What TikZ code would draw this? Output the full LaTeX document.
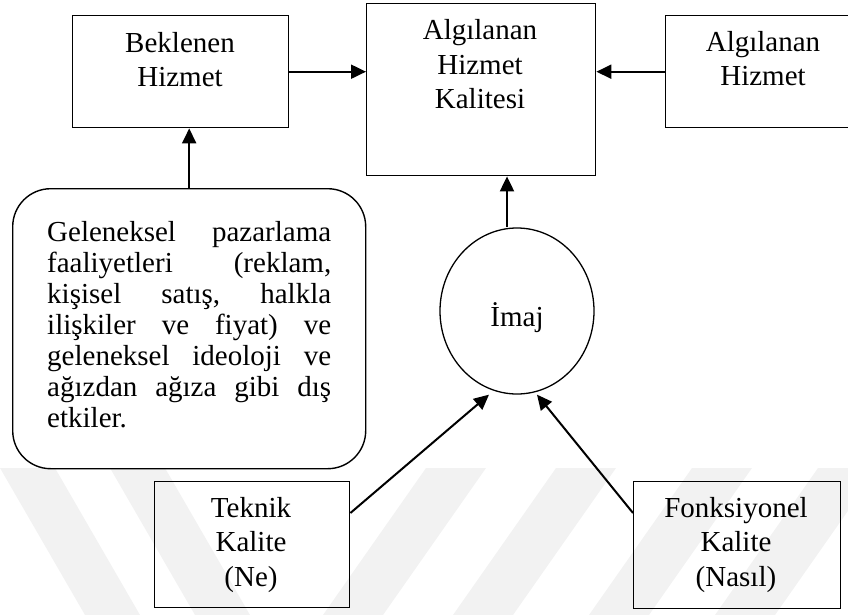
\documentclass[tikz,border=0pt]{standalone}
\usepackage{fontspec}
\setmainfont{Liberation Serif}
\usetikzlibrary{arrows.meta,shapes.geometric}

\tikzset{
  box/.style={draw, line width=1.4pt, minimum width=#1, inner sep=0pt, anchor=north west},
  roundbox/.style={draw, line width=1.4pt, rounded corners=38pt, inner sep=0pt, anchor=north west},
  bubble/.style={draw, ellipse, line width=1.3pt, inner sep=0pt},
  lbl/.style={align=center, inner sep=0pt, anchor=base,
    font=\fontsize{29}{34.5}\selectfont},
  para/.style={text width=284pt, align=left, inner sep=0pt, anchor=base west,
    font=\fontsize{29}{31}\selectfont},
  arr/.style={line width=2pt, -{Triangle[length=15pt,width=14pt]}},
  bandfill/.style={fill=black!5, draw=none}
}
% one justified line of the paragraph
\newcommand\jline[1]{\leavevmode\hbox to 284pt{#1}}

\begin{document}
\begin{tikzpicture}[x=1pt, y=-1pt]
  \useasboundingbox (0,0) rectangle (848,615);
  \clip (0,0) rectangle (848,615);

  % faint background bands
  \fill[bandfill] (0,468) -- (55,468) -- (140,615) -- (85,615) -- cycle;
  \fill[bandfill] (110,468) -- (165,468) -- (250,615) -- (195,615) -- cycle;
  \fill[bandfill] (426,468) -- (486,468) -- (383,615) -- (323,615) -- cycle;
  \fill[bandfill] (556,468) -- (616,468) -- (513,615) -- (453,615) -- cycle;
  \fill[bandfill] (692,468) -- (752,468) -- (649,615) -- (589,615) -- cycle;
  \fill[bandfill] (818,468) -- (878,468) -- (775,615) -- (715,615) -- cycle;

  % boxes
  \node[box=216pt, minimum height=112pt] (bek) at (72,15) {};
  \node[box=229pt, minimum height=172pt] (kal) at (366,3) {};
  \node[box=196pt, minimum height=112pt] (alg) at (665,15) {};
  \node[roundbox, minimum width=353pt, minimum height=280pt] (geleneksel) at (12,188) {};
  \node[bubble, minimum width=154pt, minimum height=166pt] (imaj) at (517,311) {};
  \node[box=195pt, minimum height=126pt] (teknik) at (154,481) {};
  \node[box=207pt, minimum height=127pt] (fonk) at (633,481) {};

  % texts (base = baseline of the last line)
  \node[lbl] (bekT) at (180,87) {Beklenen\\Hizmet};
  \node[lbl] (kalT) at (480,109) {Algılanan\\Hizmet\\Kalitesi};
  \node[lbl] (algT) at (763,86) {Algılanan\\Hizmet};
  \node[lbl] (imajT) at (517,326) {İmaj};
  \node[lbl] (teknikT) at (251,586) {Teknik\\Kalite\\(Ne)};
  \node[lbl] (fonkT) at (736,586) {Fonksiyonel\\Kalite\\(Nasıl)};
  \node[para] (gelenekselT) at (47,241) {%
    \jline{Geleneksel\hfill pazarlama}\\
    \jline{faaliyetleri\hfill (reklam,}\\
    \jline{kişisel\hfill satış,\hfill halkla}\\
    \jline{ilişkiler\hfill ve\hfill fiyat)\hfill ve}\\
    \jline{geleneksel\hfill ideoloji\hfill ve}\\
    \jline{ağızdan\hfill ağıza\hfill gibi\hfill dış}\\
    etkiler.};

  % connectors
  \draw[arr] (bek.east) -- (bek.east -| kal.west);
  \draw[arr] (alg.west) -- (alg.west -| kal.east);
  \draw[arr] (geleneksel.north) -- (geleneksel.north |- bek.south);
  \draw[arr] ([xshift=-10pt]imaj.north) -- ([xshift=-10pt]imaj.north |- kal.south);
  \draw[arr] ([yshift=-32pt]teknik.north east) -- ([xshift=-28pt]imaj.south);
  \draw[arr] ([yshift=-32pt]fonk.north west) -- ([xshift=20pt]imaj.south);
\end{tikzpicture}
\end{document}
